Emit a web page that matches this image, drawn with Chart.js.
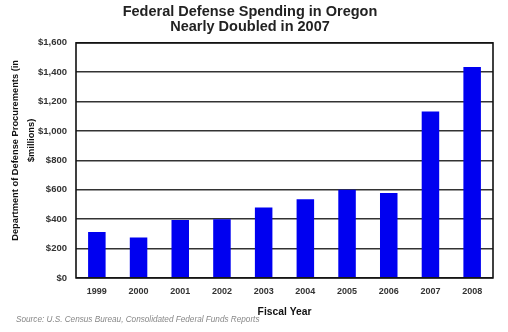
<!DOCTYPE html>
<html>
<head>
<meta charset="utf-8">
<script src="https://cdn.jsdelivr.net/npm/chart.js@4"></script>
<style>
  html, body { margin: 0; padding: 0; background: #fff; }
  #wrap { position: relative; width: 508px; height: 332px; }
  #source {
    position: absolute; left: 16px; top: 315px;
    font: italic 8.2px "Liberation Sans", Arial, sans-serif;
    color: #888; white-space: nowrap; line-height: 9px;
  }
</style>
</head>
<body>
<div id="wrap">
  <canvas id="defenseChart" width="508" height="332"></canvas>
  <div id="source"></div>
</div>
<script>
const years = ['1999', '2000', '2001', '2002', '2003', '2004', '2005', '2006', '2007', '2008'];
const spending = [312, 275, 395, 400, 479, 536, 600, 578, 1132, 1436];
const titleLines = ['Federal Defense Spending in Oregon', 'Nearly Doubled in 2007'];
const yTitleLines = ['Department of Defense Procurements (in', '$millions)'];
const sourceNote = 'Source: U.S. Census Bureau, Consolidated Federal Funds Reports';

const fontFamily = '"Liberation Sans", Arial, sans-serif';
document.getElementById('source').textContent = sourceNote;

// box around the plot area + the y axis caption (second line sits off-centre in the original)
const frame = {
    id: 'frame',
    afterDraw(chart) {
        const a = chart.chartArea;
        const ctx = chart.ctx;
        ctx.save();
        ctx.strokeStyle = '#111';
        ctx.lineWidth = 1.6;
        ctx.strokeRect(a.left, a.top, a.right - a.left, a.bottom - a.top);

        const mid = (a.top + a.bottom) / 2;
        ctx.fillStyle = '#111';
        ctx.font = 'bold 9.3px ' + fontFamily;
        ctx.textAlign = 'center';
        ctx.textBaseline = 'middle';
        ctx.translate(a.left - 61, mid - 10);
        ctx.rotate(-Math.PI / 2);
        ctx.fillText(yTitleLines[0], 0, 0);
        ctx.fillText(yTitleLines[1], 10, 16);
        ctx.restore();
    }
};

new Chart(document.getElementById('defenseChart'), {
    type: 'bar',
    data: {
        labels: years,
        datasets: [{
            data: spending,
            backgroundColor: '#0000f0',
            borderWidth: 0,
            barPercentage: 0.84,
            categoryPercentage: 0.5
        }]
    },
    options: {
        responsive: false,
        animation: false,
        layout: { padding: { left: 7, right: 15, top: 1, bottom: 15 } },
        plugins: {
            legend: { display: false },
            tooltip: { enabled: false },
            title: {
                display: true,
                text: titleLines,
                color: '#222',
                font: { family: fontFamily, size: 14.5, weight: 'bold', lineHeight: 1.03 },
                padding: { top: 4, bottom: 8 }
            }
        },
        scales: {
            x: {
                grid: { display: false, drawTicks: false },
                border: { display: false },
                ticks: {
                    color: '#333',
                    padding: 8,
                    font: { family: fontFamily, size: 9, weight: 'bold' }
                },
                title: {
                    display: true,
                    text: 'Fiscal Year',
                    color: '#111',
                    font: { family: fontFamily, size: 10.3, weight: 'bold', lineHeight: 1 },
                    padding: { top: 2, bottom: 0 }
                }
            },
            y: {
                min: 0,
                max: 1600,
                afterFit(scale) { scale.width = 69; },
                grid: { color: '#333', lineWidth: 1.6, drawTicks: false },
                border: { display: false },
                ticks: {
                    stepSize: 200,
                    color: '#333',
                    padding: 9,
                    font: { family: fontFamily, size: 9.5, weight: 'bold' },
                    callback: v => '$' + v.toLocaleString('en-US')
                }
            }
        }
    },
    plugins: [frame]
});
</script>
</body>
</html>
